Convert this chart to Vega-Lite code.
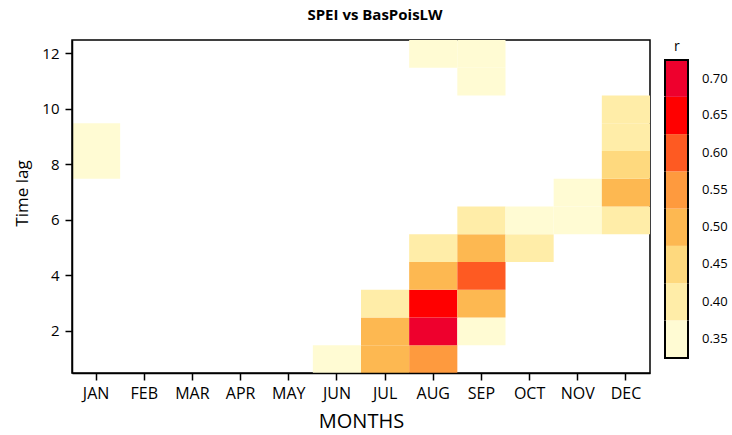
{
  "$schema": "https://vega.github.io/schema/vega-lite/v6.json",
  "width": 578,
  "height": 333,
  "autosize": {"type": "none"},
  "padding": {"left": 72, "top": 40, "right": 82, "bottom": 62},
  "config": {
    "font": "Open Sans",
    "view": {"stroke": "black", "strokeWidth": 1.5},
    "axis": {
      "domainColor": "black",
      "domainWidth": 1.5,
      "tickColor": "black",
      "tickWidth": 1.5,
      "tickSize": 7,
      "labelColor": "black",
      "titleColor": "black",
      "titleFontWeight": "normal",
      "grid": false
    }
  },
  "title": {
    "text": "SPEI vs BasPoisLW",
    "fontSize": 15,
    "fontWeight": "bold",
    "color": "black",
    "anchor": "middle",
    "dx": 14,
    "offset": 17
  },
  "data": {
    "values": [
      {"month": "JUN", "lag": 1, "r": 0.35},
      {"month": "JUL", "lag": 1, "r": 0.50},
      {"month": "AUG", "lag": 1, "r": 0.55},
      {"month": "JUL", "lag": 2, "r": 0.50},
      {"month": "AUG", "lag": 2, "r": 0.70},
      {"month": "SEP", "lag": 2, "r": 0.35},
      {"month": "JUL", "lag": 3, "r": 0.40},
      {"month": "AUG", "lag": 3, "r": 0.65},
      {"month": "SEP", "lag": 3, "r": 0.50},
      {"month": "AUG", "lag": 4, "r": 0.50},
      {"month": "SEP", "lag": 4, "r": 0.60},
      {"month": "AUG", "lag": 5, "r": 0.40},
      {"month": "SEP", "lag": 5, "r": 0.50},
      {"month": "OCT", "lag": 5, "r": 0.40},
      {"month": "SEP", "lag": 6, "r": 0.40},
      {"month": "OCT", "lag": 6, "r": 0.35},
      {"month": "NOV", "lag": 6, "r": 0.35},
      {"month": "DEC", "lag": 6, "r": 0.40},
      {"month": "NOV", "lag": 7, "r": 0.35},
      {"month": "DEC", "lag": 7, "r": 0.50},
      {"month": "JAN", "lag": 8, "r": 0.35},
      {"month": "DEC", "lag": 8, "r": 0.45},
      {"month": "JAN", "lag": 9, "r": 0.35},
      {"month": "DEC", "lag": 9, "r": 0.40},
      {"month": "DEC", "lag": 10, "r": 0.40},
      {"month": "SEP", "lag": 11, "r": 0.35},
      {"month": "AUG", "lag": 12, "r": 0.35},
      {"month": "SEP", "lag": 12, "r": 0.35}
    ]
  },
  "mark": {"type": "rect"},
  "encoding": {
    "x": {
      "field": "month",
      "type": "ordinal",
      "scale": {
        "domain": ["JAN", "FEB", "MAR", "APR", "MAY", "JUN", "JUL", "AUG", "SEP", "OCT", "NOV", "DEC"],
        "paddingInner": 0,
        "paddingOuter": 0
      },
      "axis": {
        "title": "MONTHS",
        "titleFontSize": 20,
        "titlePadding": 10,
        "labelFontSize": 16,
        "labelAngle": 0,
        "labelPadding": 5
      }
    },
    "y": {
      "field": "lag",
      "type": "ordinal",
      "scale": {
        "domain": [12, 11, 10, 9, 8, 7, 6, 5, 4, 3, 2, 1],
        "paddingInner": 0,
        "paddingOuter": 0
      },
      "axis": {
        "title": "Time lag",
        "titleFontSize": 17,
        "titlePadding": 10,
        "titleY": 153,
        "labelFontSize": 15,
        "labelPadding": 6,
        "values": [2, 4, 6, 8, 10, 12]
      }
    },
    "color": {
      "field": "r",
      "type": "quantitative",
      "scale": {
        "type": "quantize",
        "domain": [0.325, 0.725],
        "range": ["#FFFBD3", "#FFEDA8", "#FED97E", "#FDB851", "#FE9A3E", "#FE5A22", "#FF0000", "#EE002D"]
      },
      "legend": {
        "type": "gradient",
        "title": "r",
        "titleFontSize": 14,
        "titleFontWeight": "normal",
        "titleColor": "black",
        "titlePadding": 6,
        "values": [0.325, 0.3755, 0.4255, 0.4755, 0.5255, 0.5755, 0.6255, 0.6755, 0.725],
        "labelExpr": "datum.value < 0.35 ? '' : format(datum.value - 0.025, '.2f')",
        "gradientLength": 298,
        "gradientThickness": 23,
        "gradientStrokeColor": "black",
        "gradientStrokeWidth": 2,
        "labelFontSize": 13,
        "labelColor": "black",
        "labelOffset": 14,
        "labelOverlap": false,
        "offset": 15,
        "padding": 0,
        "encode": {
          "labels": {"update": {"dy": {"value": 18.6}, "baseline": {"value": "middle"}}},
          "title": {"update": {"dx": {"value": 9}}},
          "gradient": {
            "update": {
              "strokeDash": {"signal": "datum.index === 0 ? [0, 23, 97.25] : datum.index === 7 ? [60.25, 23, 37.25, 0] : [0, 23, 37.25, 23, 37.25, 0]"}
            }
          }
        }
      }
    }
  }
}
